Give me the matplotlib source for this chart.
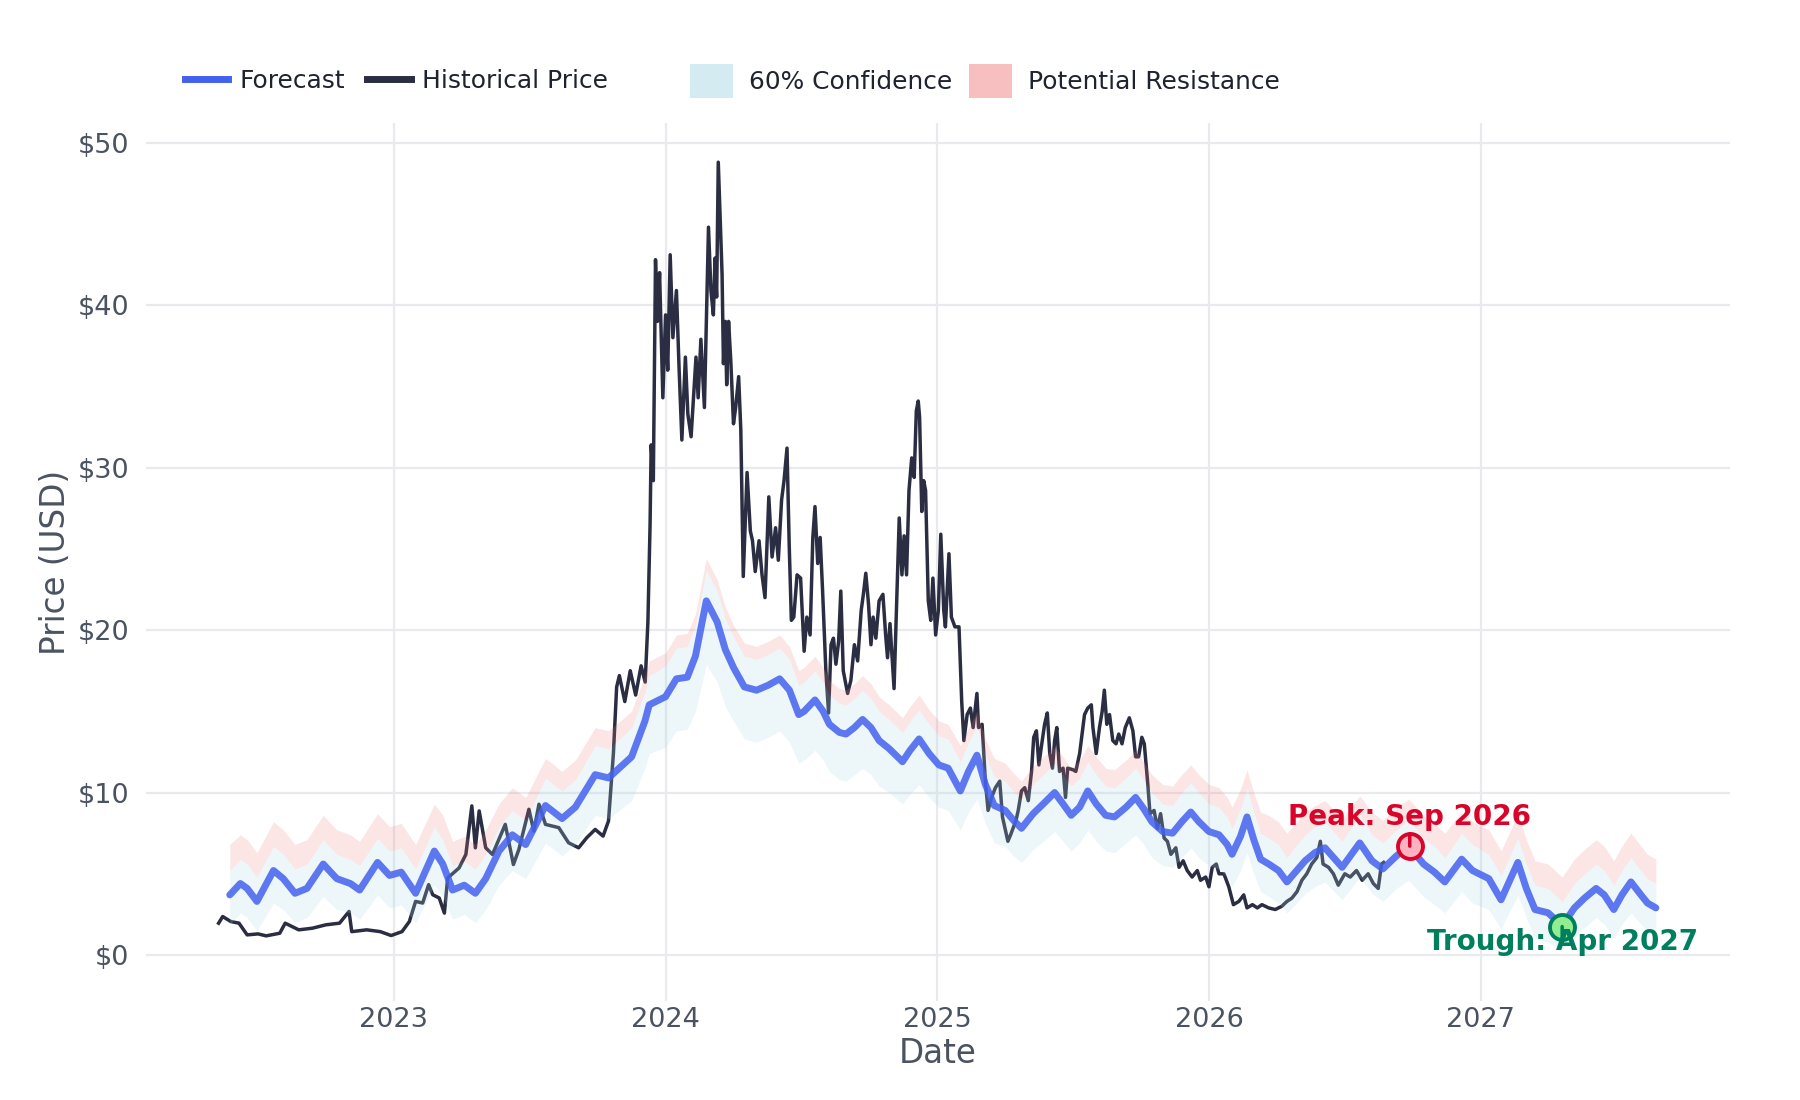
import matplotlib
matplotlib.use('Agg')
import matplotlib.pyplot as plt
from matplotlib.lines import Line2D
from matplotlib.patches import Patch

# ---- data (dates as decimal years) ----
hist_t = [
    2022.355, 2022.37, 2022.40, 2022.43, 2022.46, 2022.50, 2022.53, 2022.58, 2022.60, 2022.65,
    2022.70, 2022.75, 2022.80, 2022.835, 2022.845, 2022.90, 2022.95, 2022.99, 2023.03, 2023.057,
    2023.08, 2023.106, 2023.128, 2023.143, 2023.167, 2023.186, 2023.198, 2023.24, 2023.265, 2023.287,
    2023.30, 2023.314, 2023.338, 2023.363, 2023.41, 2023.44, 2023.46, 2023.497, 2023.515, 2023.534,
    2023.558, 2023.607, 2023.643, 2023.68, 2023.71, 2023.741, 2023.77, 2023.79, 2023.808, 2023.82,
    2023.83, 2023.85, 2023.87, 2023.89, 2023.91, 2023.925, 2023.935, 2023.943, 2023.947, 2023.955,
    2023.963, 2023.97, 2023.978, 2023.99, 2024.00, 2024.008, 2024.017, 2024.027, 2024.04, 2024.05,
    2024.06, 2024.073, 2024.082, 2024.094, 2024.112, 2024.12, 2024.13, 2024.143, 2024.158, 2024.167,
    2024.176, 2024.182, 2024.188, 2024.194, 2024.20, 2024.208, 2024.213, 2024.22, 2024.225, 2024.232,
    2024.24, 2024.25, 2024.258, 2024.269, 2024.277, 2024.286, 2024.30, 2024.312, 2024.32, 2024.33,
    2024.344, 2024.355, 2024.366, 2024.38, 2024.392, 2024.405, 2024.415, 2024.427, 2024.436, 2024.447,
    2024.455, 2024.463, 2024.472, 2024.484, 2024.497, 2024.51, 2024.52, 2024.532, 2024.542, 2024.55,
    2024.56, 2024.569, 2024.578, 2024.59, 2024.60, 2024.609, 2024.618, 2024.627, 2024.637, 2024.645,
    2024.654, 2024.67, 2024.682, 2024.695, 2024.707, 2024.72, 2024.728, 2024.737, 2024.747, 2024.756,
    2024.764, 2024.774, 2024.786, 2024.80, 2024.81, 2024.817, 2024.826, 2024.841, 2024.85, 2024.86,
    2024.87, 2024.878, 2024.887, 2024.896, 2024.906, 2024.915, 2024.923, 2024.93, 2024.935, 2024.943,
    2024.95, 2024.957, 2024.967, 2024.976, 2024.984, 2024.994, 2025.004, 2025.013, 2025.024, 2025.03,
    2025.043, 2025.052, 2025.065, 2025.08, 2025.09, 2025.098, 2025.11, 2025.122, 2025.132, 2025.146,
    2025.152, 2025.165, 2025.177, 2025.187, 2025.20, 2025.214, 2025.23, 2025.24, 2025.26, 2025.27,
    2025.29, 2025.298, 2025.31, 2025.322, 2025.335, 2025.347, 2025.355, 2025.365, 2025.374, 2025.383,
    2025.395, 2025.405, 2025.414, 2025.424, 2025.432, 2025.44, 2025.45, 2025.463, 2025.472, 2025.48,
    2025.50, 2025.51, 2025.524, 2025.533, 2025.542, 2025.554, 2025.567, 2025.573, 2025.585, 2025.597,
    2025.607, 2025.615, 2025.624, 2025.634, 2025.646, 2025.658, 2025.668, 2025.68, 2025.692, 2025.707,
    2025.72, 2025.73, 2025.741, 2025.753, 2025.762, 2025.774, 2025.783, 2025.798, 2025.81, 2025.822,
    2025.835, 2025.847, 2025.86, 2025.878, 2025.89, 2025.905, 2025.92, 2025.938, 2025.957, 2025.969,
    2025.988, 2026.0, 2026.012, 2026.027, 2026.037, 2026.055, 2026.073, 2026.09, 2026.11, 2026.128,
    2026.14, 2026.16, 2026.178, 2026.195, 2026.22, 2026.244, 2026.268, 2026.287, 2026.305, 2026.324,
    2026.342, 2026.36, 2026.378, 2026.397, 2026.41, 2026.42, 2026.44, 2026.458, 2026.476, 2026.5,
    2026.52, 2026.543, 2026.564, 2026.586, 2026.605, 2026.623, 2026.635, 2026.643,
]
hist_price = [
    1.96, 2.37, 2.06, 1.96, 1.24, 1.30, 1.18, 1.34, 1.96, 1.55,
    1.65, 1.86, 1.96, 2.68, 1.44, 1.55, 1.44, 1.20, 1.44, 2.06,
    3.30, 3.20, 4.33, 3.71, 3.51, 2.58, 4.74, 5.36, 6.19, 9.18,
    6.60, 8.87, 6.60, 6.19, 8.04, 5.57, 6.49, 8.97, 7.63, 9.28,
    8.04, 7.84, 6.91, 6.60, 7.22, 7.73, 7.32, 8.25, 12.4, 16.5,
    17.2, 15.6, 17.5, 16.0, 17.8, 16.8, 20.5, 26.5, 31.4, 29.2,
    42.8, 39.0, 42.0, 34.3, 39.4, 36.0, 43.1, 38.0, 40.9, 36.0,
    31.7, 36.8, 33.3, 31.9, 36.8, 34.3, 37.9, 33.7, 44.8, 40.9,
    39.4, 42.9, 40.5, 48.8, 45.8, 41.9, 36.4, 39.0, 35.1, 39.0,
    36.6, 32.7, 33.7, 35.6, 32.3, 23.3, 29.7, 26.1, 25.5, 23.6,
    25.5, 23.4, 22.0, 28.2, 24.5, 26.3, 24.3, 28.0, 29.2, 31.2,
    25.3, 20.6, 20.8, 23.4, 23.2, 18.7, 20.8, 19.7, 25.7, 27.6,
    24.1, 25.7, 22.4, 17.5, 14.9, 19.1, 19.5, 17.9, 19.3, 22.4,
    17.5, 16.1, 16.9, 19.1, 18.1, 21.2, 22.2, 23.5, 21.6, 19.1,
    20.8, 19.5, 21.8, 22.2, 19.7, 18.3, 20.4, 16.4, 21.4, 26.9,
    23.4, 25.8, 23.4, 28.6, 30.6, 29.4, 33.5, 34.1, 33.1, 27.3,
    29.2, 28.6, 21.8, 20.6, 23.2, 19.7, 21.2, 25.9, 21.2, 20.2,
    24.7, 20.8, 20.2, 20.2, 15.6, 13.2, 14.8, 15.2, 14.0, 16.1,
    14.0, 14.2, 10.7, 8.9, 9.7, 10.3, 10.7, 8.5, 7.0, 7.4,
    8.3, 8.9, 10.1, 10.3, 9.5, 11.3, 13.4, 13.8, 11.7, 12.8,
    14.2, 14.9, 12.4, 11.5, 13.2, 14.0, 11.3, 11.5, 9.7, 11.5,
    11.4, 11.3, 12.4, 13.6, 14.8, 15.2, 15.4, 14.0, 12.4, 14.0,
    15.0, 16.3, 14.2, 14.8, 13.2, 13.0, 13.6, 13.0, 14.0, 14.6,
    13.8, 12.2, 12.2, 13.4, 13.0, 10.7, 8.7, 8.9, 7.8, 8.7,
    7.2, 7.0, 6.2, 6.6, 5.4, 5.8, 5.2, 4.8, 5.2, 4.6,
    4.8, 4.2, 5.4, 5.6, 5.0, 5.0, 4.2, 3.1, 3.3, 3.7,
    2.9, 3.1, 2.9, 3.1, 2.9, 2.8, 3.0, 3.3, 3.5, 3.9,
    4.6, 5.0, 5.6, 6.0, 7.0, 5.6, 5.4, 5.0, 4.3, 5.0,
    4.8, 5.2, 4.6, 5.0, 4.4, 4.1, 5.6, 5.7,
]

fc_t = [
    2022.396, 2022.435, 2022.46, 2022.496, 2022.557, 2022.593, 2022.636, 2022.68, 2022.74, 2022.79,
    2022.84, 2022.874, 2022.94, 2022.984, 2023.027, 2023.08, 2023.149, 2023.18, 2023.216, 2023.259,
    2023.30, 2023.338, 2023.387, 2023.436, 2023.485, 2023.558, 2023.619, 2023.668, 2023.741, 2023.79,
    2023.875, 2023.924, 2023.94, 2024.0, 2024.04, 2024.08, 2024.11, 2024.15, 2024.19, 2024.22,
    2024.25, 2024.29, 2024.335, 2024.377, 2024.42, 2024.456, 2024.49, 2024.51, 2024.55, 2024.58,
    2024.603, 2024.64, 2024.664, 2024.695, 2024.725, 2024.756, 2024.786, 2024.823, 2024.872, 2024.90,
    2024.933, 2024.97, 2025.006, 2025.04, 2025.085, 2025.115, 2025.146, 2025.177, 2025.21, 2025.25,
    2025.28, 2025.31, 2025.353, 2025.39, 2025.432, 2025.463, 2025.493, 2025.524, 2025.554, 2025.585,
    2025.62, 2025.652, 2025.695, 2025.73, 2025.76, 2025.79, 2025.83, 2025.866, 2025.90, 2025.933,
    2025.963, 2026.0, 2026.037, 2026.067, 2026.085, 2026.116, 2026.14, 2026.165, 2026.19, 2026.22,
    2026.256, 2026.287, 2026.318, 2026.354, 2026.39, 2026.427, 2026.49, 2026.555, 2026.60, 2026.64,
    2026.69, 2026.735, 2026.79, 2026.83, 2026.868, 2026.93, 2026.97, 2027.03, 2027.075, 2027.137,
    2027.168, 2027.20, 2027.248, 2027.30, 2027.345, 2027.382, 2027.425, 2027.455, 2027.49, 2027.52,
    2027.553, 2027.59, 2027.614, 2027.645,
]
forecast = [
    3.7, 4.4, 4.1, 3.3, 5.2, 4.7, 3.8, 4.1, 5.6, 4.7,
    4.4, 4.0, 5.7, 4.9, 5.1, 3.8, 6.4, 5.6, 4.0, 4.3,
    3.8, 4.7, 6.4, 7.4, 6.8, 9.2, 8.4, 9.1, 11.1, 10.9,
    12.2, 14.4, 15.4, 15.9, 17.0, 17.1, 18.4, 21.8, 20.5, 18.8,
    17.7, 16.5, 16.3, 16.6, 17.0, 16.3, 14.8, 15.0, 15.7, 15.0,
    14.2, 13.7, 13.6, 14.0, 14.5, 14.0, 13.2, 12.7, 11.9, 12.6,
    13.3, 12.4, 11.7, 11.5, 10.1, 11.3, 12.3, 10.5, 9.2, 8.9,
    8.3, 7.8, 8.7, 9.3, 10.0, 9.3, 8.6, 9.1, 10.1, 9.3,
    8.6, 8.5, 9.1, 9.7, 9.0, 8.2, 7.6, 7.5, 8.2, 8.8,
    8.2, 7.6, 7.4, 6.8, 6.2, 7.3, 8.5, 7.1, 5.9, 5.6,
    5.2, 4.5, 5.1, 5.8, 6.3, 6.6, 5.4, 6.9, 5.8, 5.3,
    6.1, 6.7, 5.6, 5.1, 4.5, 5.9, 5.2, 4.7, 3.4, 5.7,
    4.1, 2.8, 2.6, 1.8, 2.9, 3.5, 4.1, 3.7, 2.8, 3.7,
    4.5, 3.7, 3.2, 2.9,
]
conf_lo = [
    1.9, 2.6, 2.3, 1.5, 3.2, 2.8, 2.0, 2.3, 3.6, 2.8,
    2.6, 2.2, 3.7, 2.9, 3.1, 2.0, 4.3, 3.6, 2.2, 2.5,
    2.0, 2.8, 4.3, 5.2, 4.7, 6.9, 6.1, 6.8, 8.6, 8.4,
    9.5, 11.5, 12.4, 12.8, 13.8, 13.9, 15.0, 17.9, 16.8, 15.3,
    14.4, 13.3, 13.1, 13.4, 13.8, 13.1, 11.8, 12.0, 12.6, 12.0,
    11.3, 10.8, 10.7, 11.1, 11.5, 11.1, 10.4, 10.0, 9.3, 9.9,
    10.5, 9.7, 9.1, 8.9, 7.7, 8.8, 9.6, 8.1, 6.9, 6.7,
    6.1, 5.7, 6.5, 7.0, 7.6, 7.0, 6.4, 6.9, 7.7, 7.0,
    6.4, 6.3, 6.9, 7.4, 6.8, 6.0, 5.5, 5.4, 6.0, 6.6,
    6.0, 5.5, 5.3, 4.8, 4.2, 5.2, 6.3, 5.0, 3.9, 3.6,
    3.2, 2.6, 3.1, 3.8, 4.2, 4.5, 3.4, 4.8, 3.8, 3.3,
    4.1, 4.6, 3.6, 3.1, 2.6, 3.9, 3.2, 2.8, 1.6, 3.7,
    2.3, 1.0, 0.8, 0.3, 1.1, 1.7, 2.3, 1.9, 1.0, 1.9,
    2.6, 1.9, 1.4, 1.1,
]
conf_hi = [
    5.2, 5.9, 5.6, 4.8, 6.7, 6.2, 5.3, 5.6, 7.1, 6.2,
    5.9, 5.5, 7.2, 6.4, 6.6, 5.3, 7.9, 7.1, 5.5, 5.8,
    5.3, 6.2, 7.9, 8.9, 8.3, 10.9, 10.1, 10.8, 12.9, 12.7,
    14.0, 16.2, 17.2, 17.8, 18.9, 19.0, 20.3, 23.7, 22.4, 20.7,
    19.6, 18.4, 18.2, 18.5, 18.9, 18.2, 16.6, 16.8, 17.5, 16.8,
    16.0, 15.5, 15.4, 15.8, 16.3, 15.8, 15.0, 14.5, 13.7, 14.4,
    15.1, 14.2, 13.5, 13.3, 11.9, 13.1, 14.1, 12.3, 11.0, 10.7,
    10.1, 9.6, 10.5, 11.1, 11.8, 11.1, 10.4, 10.9, 11.9, 11.1,
    10.4, 10.3, 10.9, 11.5, 10.8, 10.0, 9.3, 9.2, 10.0, 10.6,
    10.0, 9.3, 9.1, 8.5, 7.8, 9.0, 10.3, 8.8, 7.5, 7.2,
    6.8, 6.0, 6.7, 7.4, 7.9, 8.2, 7.0, 8.6, 7.4, 6.9,
    7.7, 8.3, 7.2, 6.7, 6.0, 7.5, 6.8, 6.2, 4.9, 7.2,
    5.6, 4.3, 4.1, 3.3, 4.4, 5.0, 5.6, 5.2, 4.3, 5.2,
    6.0, 5.2, 4.7, 4.4,
]
resist_hi = [
    6.8, 7.4, 7.1, 6.3, 8.2, 7.7, 6.8, 7.1, 8.6, 7.7,
    7.4, 7.0, 8.7, 7.9, 8.1, 6.8, 9.3, 8.6, 7.0, 7.3,
    6.8, 7.7, 9.3, 10.3, 9.7, 12.1, 11.3, 12.0, 14.0, 13.8,
    15.0, 17.2, 18.1, 18.6, 19.7, 19.8, 21.0, 24.4, 23.1, 21.4,
    20.3, 19.2, 19.0, 19.3, 19.7, 19.0, 17.5, 17.7, 18.4, 17.7,
    16.9, 16.4, 16.3, 16.7, 17.2, 16.7, 15.9, 15.4, 14.6, 15.3,
    16.0, 15.1, 14.4, 14.2, 12.9, 14.0, 15.0, 13.3, 12.1, 11.8,
    11.2, 10.7, 11.6, 12.2, 12.8, 12.2, 11.5, 12.0, 12.9, 12.2,
    11.5, 11.4, 12.0, 12.6, 11.9, 11.1, 10.5, 10.4, 11.1, 11.7,
    11.1, 10.5, 10.3, 9.7, 9.1, 10.2, 11.4, 10.0, 8.8, 8.6,
    8.2, 7.5, 8.1, 8.8, 9.2, 9.5, 8.4, 9.8, 8.8, 8.3,
    9.1, 9.6, 8.6, 8.1, 7.5, 8.8, 8.2, 7.7, 6.4, 8.7,
    7.1, 5.8, 5.6, 4.8, 5.9, 6.5, 7.1, 6.7, 5.8, 6.7,
    7.5, 6.7, 6.2, 5.9,
]

peak_t, peak_price = 2026.739, 6.7
trough_t, trough_price = 2027.30, 1.75
year_ticks = [2023, 2024, 2025, 2026, 2027]
price_ticks = [0, 10, 20, 30, 40, 50]

# ---- colours ----
C_HIST = '#2b2d42'
C_FC = '#4361ee'
C_PEAK = '#d90429'
C_TROUGH = '#007f5f'
C_GRID = '#e8eaee'
C_TXT = '#4b5361'

plt.rcParams['font.family'] = ['DejaVu Sans']

fig = plt.figure(figsize=(18, 11), dpi=100)
ax = fig.add_axes([0.081, 0.090, 0.880, 0.798])

ax.plot(hist_t, hist_price, color=C_HIST, lw=2.5, zorder=2)
ax.fill_between(fc_t, conf_lo, conf_hi, color='lightblue', alpha=0.22, lw=0, zorder=3)
ax.fill_between(fc_t, conf_hi, resist_hi, color='lightcoral', alpha=0.2, lw=0, zorder=3)
ax.plot(fc_t, forecast, color=C_FC, lw=5, alpha=0.85, solid_capstyle='round',
        solid_joinstyle='round', zorder=4)

# peak / trough markers
ax.plot([peak_t], [peak_price], 'o', ms=18, mfc='#ffb3c1', mec=C_PEAK, mew=2.8, zorder=5)
ax.plot([trough_t], [trough_price], 'o', ms=18, mfc='#90ee90', mec=C_TROUGH, mew=2.8, zorder=5)
ax.annotate('Peak: Sep 2026', xy=(peak_t, peak_price), xytext=(0, 21), textcoords='offset points',
            ha='center', va='center', fontsize=20, fontweight='bold', color=C_PEAK, zorder=6,
            arrowprops=dict(arrowstyle='-', color=C_PEAK, lw=2.5, shrinkA=0, shrinkB=0))
ax.annotate('Trough: Apr 2027', xy=(trough_t, trough_price), xytext=(0, -11), textcoords='offset points',
            ha='center', va='center', fontsize=20, fontweight='bold', color=C_TROUGH, zorder=6,
            arrowprops=dict(arrowstyle='-', color=C_TROUGH, lw=2.5, shrinkA=0, shrinkB=0))

ax.set_xlim(2022.087, 2027.917)
ax.set_ylim(-2.83, 51.2)
ax.set_xticks(year_ticks)
ax.set_xticklabels([str(y) for y in year_ticks])
ax.set_yticks(price_ticks)
ax.set_yticklabels([f'${p}' for p in price_ticks])
ax.grid(True, color=C_GRID, lw=1.6, zorder=0)
ax.set_axisbelow(True)
for s in ax.spines.values():
    s.set_visible(False)
ax.tick_params(length=0, labelsize=19.5, colors=C_TXT)
ax.tick_params(axis='y', pad=12)
ax.tick_params(axis='x', pad=4)
ax.set_xlabel('Date', fontsize=23.5, color=C_TXT, labelpad=3)
ax.set_ylabel('Price (USD)', fontsize=23.5, color=C_TXT, labelpad=4)

# legend: lines group + bands group
line_handles = [Line2D([], [], color=C_FC, lw=5), Line2D([], [], color=C_HIST, lw=5)]
leg1 = fig.legend(line_handles, ['Forecast', 'Historical Price'], loc='center left',
                  bbox_to_anchor=(0.1026, 0.9265), ncol=2, frameon=False, fontsize=17.9,
                  handlelength=1.75, handletextpad=0.45, columnspacing=0.9, borderpad=0,
                  borderaxespad=0)
band_handles = [Patch(facecolor='lightblue', alpha=0.5, lw=0),
                Patch(facecolor='lightcoral', alpha=0.5, lw=0)]
leg2 = fig.legend(band_handles, ['60% Confidence', 'Potential Resistance'], loc='center left',
                  bbox_to_anchor=(0.3835, 0.9265), ncol=2, frameon=False, fontsize=17.9,
                  handlelength=1.7, handleheight=1.75, handletextpad=0.65, columnspacing=0.7,
                  borderpad=0, borderaxespad=0)
for leg in (leg1, leg2):
    for t in leg.get_texts():
        t.set_color('#1f2330')

fig.savefig('out.png', dpi=100, facecolor='white')
